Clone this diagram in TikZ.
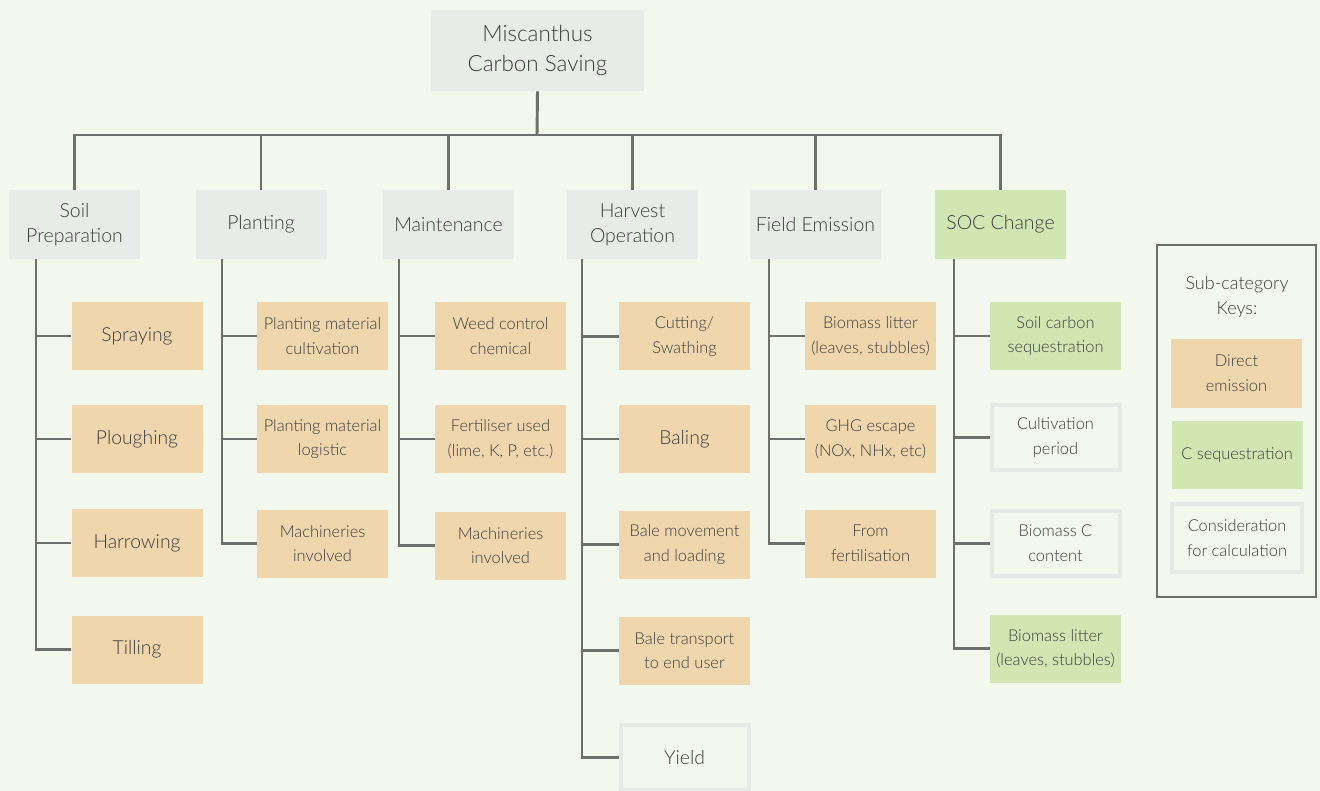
\documentclass[tikz,border=0pt]{standalone}
\usepackage{fontspec}
\setmainfont{Lato}[UprightFont=* Light]
\definecolor{bgcol}{RGB}{243,248,238}
\definecolor{greybox}{RGB}{232,236,230}
\definecolor{direct}{RGB}{240,214,173}
\definecolor{cseq}{RGB}{209,230,178}
\definecolor{edgecol}{RGB}{230,234,228}
\definecolor{linecol}{RGB}{108,112,107}
\definecolor{txt}{RGB}{60,60,60}
\tikzset{
  base/.style={align=center,inner sep=0pt,text=txt,font=\fontsize{12.3}{18.5}\selectfont,
    minimum width=98.25pt,minimum height=51pt},
  catbox/.style={base,fill=greybox,minimum height=51.75pt,font=\fontsize{14.6}{18.75}\selectfont},
  socbox/.style={catbox,fill=cseq},
  dirbox/.style={base,fill=direct},
  seqbox/.style={base,fill=cseq},
  calcbox/.style={base,fill=bgcol,draw=edgecol,line width=3pt,minimum width=96pt,minimum height=49pt},
  big/.style={font=\fontsize{14.5}{18}\selectfont},
  link/.style={draw=linecol,line width=2.2pt,line join=miter}
}
\begin{document}
\begin{tikzpicture}[x=0.75pt,y=-0.75pt]
\fill[bgcol] (0,0) rectangle (1320,791);
\useasboundingbox (0,0) rectangle (1320,791);

% top
\node[catbox,minimum width=160pt,minimum height=61pt,font=\fontsize{16.8}{22.5}\selectfont]
  (root) at (537.5,50.5) {Miscanthus\\Carbon Saving};
\coordinate (bus) at (537,135);

% main categories
\node[catbox] (soil) at (74.5,224.5) {Soil\\Preparation};
\node[catbox] (plant) at (261,224.5) {Planting};
\node[catbox] (maint) at (448.5,224.5) {Maintenance};
\node[catbox] (harv) at (632.5,224.5) {Harvest\\Operation};
\node[catbox] (field) at (815.5,224.5) {Field Emission};
\node[socbox] (soc) at (1000.5,224.5) {SOC Change};

\draw[link] (root.south) -- (bus);
\foreach \c in {soil,plant,maint,harv,field,soc}
  \draw[link] (bus) -| (\c.north);

% soil preparation
\node[dirbox,big] (spray) at (137,336) {Spraying};
\node[dirbox,big] (plough) at (137,439) {Ploughing};
\node[dirbox,big] (harrow) at (137,543) {Harrowing};
\node[dirbox,big] (till) at (137,649.5) {Tilling};

% planting
\node[dirbox] (pmcult) at (322.5,336) {Planting material\\cultivation};
\node[dirbox] (pmlog) at (322.5,439) {Planting material\\logistic};
\node[dirbox] (pmach) at (322.5,543.5) {Machineries\\involved};

% maintenance
\node[dirbox] (weed) at (500.5,336) {Weed control\\chemical};
\node[dirbox] (fert) at (500.5,439) {Fertiliser used\\(lime, K, P, etc.)};
\node[dirbox] (mmach) at (500.5,545.5) {Machineries\\involved};

% harvest operation
\node[dirbox] (cut) at (684.5,336.5) {Cutting/\\Swathing};
\node[dirbox,big] (bale) at (684.5,439) {Baling};
\node[dirbox] (balemv) at (684.5,544.5) {Bale movement\\and loading};
\node[dirbox] (baletr) at (684.5,650.5) {Bale transport\\to end user};
\node[calcbox,big] (yield) at (684.5,757.5) {Yield};

% field emission
\node[dirbox] (litter) at (870.5,336) {Biomass litter\\(leaves, stubbles)};
\node[dirbox] (ghg) at (870.5,439) {GHG escape\\(NOx, NHx, etc)};
\node[dirbox] (ffert) at (870.5,543.5) {From\\fertilisation};

% soc change
\node[seqbox] (soilc) at (1055.5,336) {Soil carbon\\sequestration};
\node[calcbox] (cultp) at (1055.5,437.5) {Cultivation\\period};
\node[calcbox] (biomc) at (1055.5,543.5) {Biomass C\\content};
\node[seqbox] (blitter) at (1055.5,648.5) {Biomass litter\\(leaves, stubbles)};

% spines
\coordinate (s1) at (36,0);
\coordinate (s2) at (222,0);
\coordinate (s3) at (399,0);
\coordinate (s4) at (582,0);
\coordinate (s5) at (769,0);
\coordinate (s6) at (954,0);

\draw[link] (soil.south -| s1) |- (till.west);
\foreach \n in {spray,plough,harrow} \draw[link] (\n.west -| s1) -- (\n.west);
\draw[link] (plant.south -| s2) |- (pmach.west);
\foreach \n in {pmcult,pmlog} \draw[link] (\n.west -| s2) -- (\n.west);
\draw[link] (maint.south -| s3) |- (mmach.west);
\foreach \n in {weed,fert} \draw[link] (\n.west -| s3) -- (\n.west);
\draw[link] (harv.south -| s4) |- (yield.west);
\foreach \n in {cut,bale,balemv,baletr} \draw[link] (\n.west -| s4) -- (\n.west);
\draw[link] (field.south -| s5) |- (ffert.west);
\foreach \n in {litter,ghg} \draw[link] (\n.west -| s5) -- (\n.west);
\draw[link] (soc.south -| s6) |- (blitter.west);
\foreach \n in {soilc,cultp,biomc} \draw[link] (\n.west -| s6) -- (\n.west);

% legend
\draw[draw=linecol,line width=1.6pt] (1157,245) rectangle (1316,597);
\node[base,font=\fontsize{13.5}{18.75}\selectfont] (keys) at (1237,297) {Sub-category\\Keys:};
\node[dirbox] (kdir) at (1236.5,373.5) {Direct\\emission};
\node[seqbox] (kseq) at (1237,455) {C sequestration};
\node[calcbox,minimum width=97.5pt,minimum height=51pt] (kcalc) at (1237,538) {Consideration\\for calculation};
\end{tikzpicture}
\end{document}
